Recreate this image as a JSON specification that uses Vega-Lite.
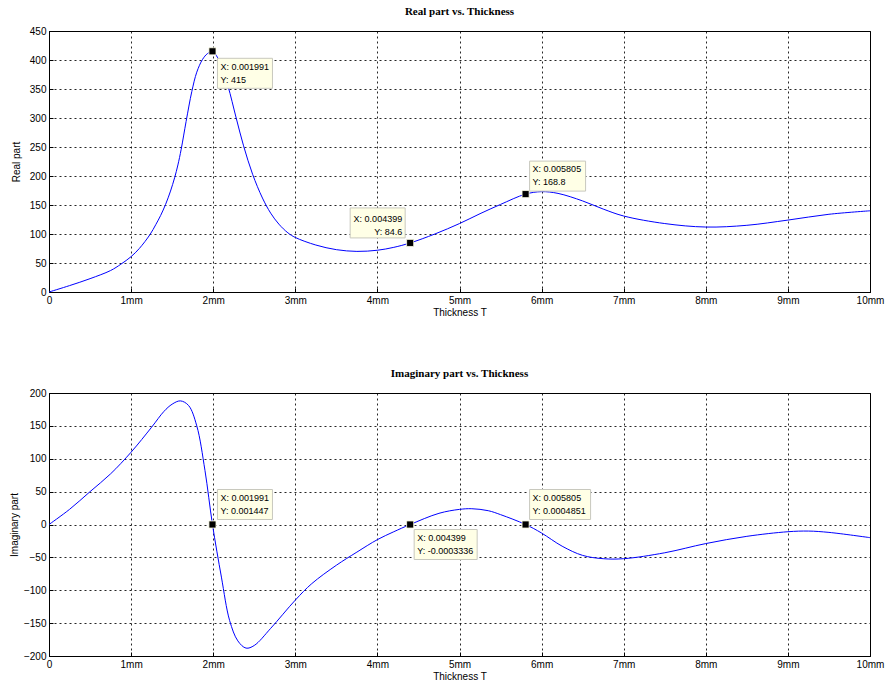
{
  "$schema": "https://vega.github.io/schema/vega-lite/v6.json",
  "background": "white",
  "padding": {"left": 8, "top": 5, "right": 5, "bottom": 5},
  "spacing": 49,
  "config": {
    "view": {"stroke": "#000", "strokeWidth": 1},
    "font": "Liberation Sans",
    "axis": {
      "domainColor": "#000",
      "grid": true,
      "gridColor": "#000",
      "gridDash": [2, 3],
      "gridWidth": 1,
      "gridOpacity": 0.85,
      "tickColor": "#000",
      "tickSize": -4,
      "labelPadding": 7,
      "labelFont": "Liberation Sans",
      "labelFontSize": 10,
      "labelColor": "#000",
      "titleFont": "Liberation Sans",
      "titleFontSize": 10,
      "titleFontWeight": "normal",
      "titleColor": "#000",
      "labelOverlap": false,
      "labelFlush": false,
      "labelBound": false
    },
    "title": {"font": "Liberation Serif", "fontSize": 11, "fontWeight": "bold", "color": "#000", "offset": 9}
  },
  "datasets": {
    "real": [
      {"x": 0.0, "v": 0}, {"x": 0.00025, "v": 11}, {"x": 0.0005, "v": 23}, {"x": 0.00075, "v": 37},
      {"x": 0.000876, "v": 48}, {"x": 0.001, "v": 61}, {"x": 0.0011, "v": 75}, {"x": 0.00123, "v": 99},
      {"x": 0.0013, "v": 116}, {"x": 0.00136, "v": 132}, {"x": 0.00142, "v": 151}, {"x": 0.00148, "v": 174},
      {"x": 0.00153, "v": 197}, {"x": 0.00157, "v": 219}, {"x": 0.00161, "v": 246}, {"x": 0.00167, "v": 294},
      {"x": 0.00174, "v": 346}, {"x": 0.0018, "v": 379}, {"x": 0.00187, "v": 401}, {"x": 0.00193, "v": 411},
      {"x": 0.001991, "v": 415}, {"x": 0.00205, "v": 405}, {"x": 0.0021, "v": 388}, {"x": 0.00218, "v": 355},
      {"x": 0.00228, "v": 300}, {"x": 0.00237, "v": 252}, {"x": 0.00248, "v": 203}, {"x": 0.0026, "v": 162},
      {"x": 0.0027, "v": 136}, {"x": 0.0028, "v": 117}, {"x": 0.00291, "v": 102}, {"x": 0.003, "v": 94},
      {"x": 0.00325, "v": 81}, {"x": 0.0035, "v": 73}, {"x": 0.00375, "v": 70}, {"x": 0.004, "v": 72},
      {"x": 0.0042, "v": 77}, {"x": 0.004399, "v": 84.6}, {"x": 0.0047, "v": 100}, {"x": 0.005, "v": 118},
      {"x": 0.00525, "v": 135}, {"x": 0.0055, "v": 151}, {"x": 0.005805, "v": 168.8}, {"x": 0.006, "v": 173},
      {"x": 0.0062, "v": 170}, {"x": 0.0065, "v": 157}, {"x": 0.00675, "v": 143}, {"x": 0.007, "v": 131},
      {"x": 0.0075, "v": 118}, {"x": 0.008, "v": 112}, {"x": 0.0085, "v": 115}, {"x": 0.009, "v": 124},
      {"x": 0.0095, "v": 134}, {"x": 0.01, "v": 140}
    ],
    "imag": [
      {"x": 0.0, "v": 0}, {"x": 0.00025, "v": 23}, {"x": 0.0005, "v": 50}, {"x": 0.00075, "v": 77},
      {"x": 0.001, "v": 110}, {"x": 0.00125, "v": 148}, {"x": 0.0014, "v": 172}, {"x": 0.0015, "v": 183},
      {"x": 0.0016, "v": 188}, {"x": 0.0017, "v": 181}, {"x": 0.0018, "v": 150}, {"x": 0.0019, "v": 82},
      {"x": 0.001991, "v": 0}, {"x": 0.0021, "v": -80}, {"x": 0.0022, "v": -146}, {"x": 0.0023, "v": -177},
      {"x": 0.0024, "v": -188}, {"x": 0.0025, "v": -184}, {"x": 0.0027, "v": -158}, {"x": 0.003, "v": -115},
      {"x": 0.0032, "v": -90}, {"x": 0.0035, "v": -62}, {"x": 0.00375, "v": -42}, {"x": 0.004, "v": -23},
      {"x": 0.0042, "v": -11}, {"x": 0.004399, "v": 0}, {"x": 0.00475, "v": 17}, {"x": 0.005, "v": 23},
      {"x": 0.00515, "v": 24}, {"x": 0.00535, "v": 21}, {"x": 0.0055, "v": 15}, {"x": 0.005805, "v": 0},
      {"x": 0.006, "v": -13}, {"x": 0.00625, "v": -33}, {"x": 0.0065, "v": -47}, {"x": 0.00675, "v": -52},
      {"x": 0.007, "v": -52}, {"x": 0.0075, "v": -43}, {"x": 0.008, "v": -29}, {"x": 0.0085, "v": -18},
      {"x": 0.009, "v": -11}, {"x": 0.00925, "v": -10}, {"x": 0.0095, "v": -12}, {"x": 0.01, "v": -20}
    ],
    "tipsReal": [
      {"tip": "a", "x": 0.001991, "v": 415, "label": ["X: 0.001991", "Y: 415"]},
      {"tip": "b", "x": 0.004399, "v": 84.6, "label": ["X: 0.004399", "Y: 84.6"]},
      {"tip": "c", "x": 0.005805, "v": 168.8, "label": ["X: 0.005805", "Y: 168.8"]}
    ],
    "tipsImag": [
      {"tip": "d", "x": 0.001991, "v": 0.001447, "label": ["X: 0.001991", "Y: 0.001447"]},
      {"tip": "e", "x": 0.004399, "v": -0.0003336, "label": ["X: 0.004399", "Y: -0.0003336"]},
      {"tip": "f", "x": 0.005805, "v": 0.0004851, "label": ["X: 0.005805", "Y: 0.0004851"]}
    ]
  },
  "vconcat": [
    {
      "title": "Real part vs. Thickness",
      "width": 821,
      "height": 261,
      "encoding": {
        "x": {"field": "x", "type": "quantitative", "scale": {"domain": [0, 0.01], "nice": false, "zero": false},
          "axis": {"title": "Thickness T", "values": [0, 0.001, 0.002, 0.003, 0.004, 0.005, 0.006, 0.007, 0.008, 0.009, 0.01],
            "labelExpr": "datum.value == 0 ? '0' : round(datum.value * 1000) + 'mm'", "titlePadding": 2}},
        "y": {"field": "v", "type": "quantitative", "scale": {"domain": [0, 450], "nice": false},
          "axis": {"title": "Real part", "values": [0, 50, 100, 150, 200, 250, 300, 350, 400, 450], "titlePadding": 8}}
      },
      "layer": [
        {"data": {"name": "real"}, "mark": {"type": "line", "color": "#0000FF", "strokeWidth": 1, "interpolate": "catmull-rom"}},
        {"data": {"name": "tipsReal"}, "transform": [{"filter": "datum.tip == 'a'"}],
          "mark": {"type": "rect", "fill": "#FFFFE6", "stroke": "#C8C8BE", "strokeWidth": 1, "xOffset": 5, "x2Offset": 60, "yOffset": 7, "y2Offset": 37},
          "encoding": {"x2": {"field": "x"}, "y2": {"field": "v"}}},
        {"data": {"name": "tipsReal"}, "transform": [{"filter": "datum.tip == 'b'"}],
          "mark": {"type": "rect", "fill": "#FFFFE6", "stroke": "#C8C8BE", "strokeWidth": 1, "xOffset": -60, "x2Offset": -5, "yOffset": -35, "y2Offset": -5},
          "encoding": {"x2": {"field": "x"}, "y2": {"field": "v"}}},
        {"data": {"name": "tipsReal"}, "transform": [{"filter": "datum.tip == 'c'"}],
          "mark": {"type": "rect", "fill": "#FFFFE6", "stroke": "#C8C8BE", "strokeWidth": 1, "xOffset": 4, "x2Offset": 60, "yOffset": -33, "y2Offset": -3},
          "encoding": {"x2": {"field": "x"}, "y2": {"field": "v"}}},
        {"data": {"name": "tipsReal"}, "transform": [{"filter": "datum.tip == 'a'"}],
          "mark": {"type": "text", "align": "left", "baseline": "middle", "dx": 8, "dy": 16, "fontSize": 9, "lineHeight": 13, "color": "#000"},
          "encoding": {"text": {"field": "label"}}},
        {"data": {"name": "tipsReal"}, "transform": [{"filter": "datum.tip == 'b'"}],
          "mark": {"type": "text", "align": "right", "baseline": "middle", "dx": -8, "dy": -24, "fontSize": 9, "lineHeight": 13, "color": "#000"},
          "encoding": {"text": {"field": "label"}}},
        {"data": {"name": "tipsReal"}, "transform": [{"filter": "datum.tip == 'c'"}],
          "mark": {"type": "text", "align": "left", "baseline": "middle", "dx": 7, "dy": -25, "fontSize": 9, "lineHeight": 13, "color": "#000"},
          "encoding": {"text": {"field": "label"}}},
        {"data": {"name": "tipsReal"},
          "mark": {"type": "point", "shape": "square", "filled": true, "size": 50, "opacity": 1, "fill": "#000", "stroke": "#FFFFE6", "strokeWidth": 0.8}}
      ]
    },
    {
      "title": "Imaginary part vs. Thickness",
      "width": 821,
      "height": 263,
      "encoding": {
        "x": {"field": "x", "type": "quantitative", "scale": {"domain": [0, 0.01], "nice": false, "zero": false},
          "axis": {"title": "Thickness T", "values": [0, 0.001, 0.002, 0.003, 0.004, 0.005, 0.006, 0.007, 0.008, 0.009, 0.01],
            "labelExpr": "datum.value == 0 ? '0' : round(datum.value * 1000) + 'mm'", "titlePadding": 2}},
        "y": {"field": "v", "type": "quantitative", "scale": {"domain": [-200, 200], "nice": false},
          "axis": {"title": "Imaginary part", "values": [-200, -150, -100, -50, 0, 50, 100, 150, 200], "titlePadding": 4}}
      },
      "layer": [
        {"data": {"name": "imag"}, "mark": {"type": "line", "color": "#0000FF", "strokeWidth": 1, "interpolate": "catmull-rom"}},
        {"data": {"name": "tipsImag"}, "transform": [{"filter": "datum.tip == 'd'"}],
          "mark": {"type": "rect", "fill": "#FFFFE6", "stroke": "#C8C8BE", "strokeWidth": 1, "xOffset": 5, "x2Offset": 60, "yOffset": -35, "y2Offset": -5},
          "encoding": {"x2": {"field": "x"}, "y2": {"field": "v"}}},
        {"data": {"name": "tipsImag"}, "transform": [{"filter": "datum.tip == 'e'"}],
          "mark": {"type": "rect", "fill": "#FFFFE6", "stroke": "#C8C8BE", "strokeWidth": 1, "xOffset": 4, "x2Offset": 67, "yOffset": 5, "y2Offset": 35},
          "encoding": {"x2": {"field": "x"}, "y2": {"field": "v"}}},
        {"data": {"name": "tipsImag"}, "transform": [{"filter": "datum.tip == 'f'"}],
          "mark": {"type": "rect", "fill": "#FFFFE6", "stroke": "#C8C8BE", "strokeWidth": 1, "xOffset": 4, "x2Offset": 65, "yOffset": -35, "y2Offset": -5},
          "encoding": {"x2": {"field": "x"}, "y2": {"field": "v"}}},
        {"data": {"name": "tipsImag"}, "transform": [{"filter": "datum.tip == 'd'"}],
          "mark": {"type": "text", "align": "left", "baseline": "middle", "dx": 8, "dy": -26, "fontSize": 9, "lineHeight": 13, "color": "#000"},
          "encoding": {"text": {"field": "label"}}},
        {"data": {"name": "tipsImag"}, "transform": [{"filter": "datum.tip == 'e'"}],
          "mark": {"type": "text", "align": "left", "baseline": "middle", "dx": 7, "dy": 13, "fontSize": 9, "lineHeight": 13, "color": "#000"},
          "encoding": {"text": {"field": "label"}}},
        {"data": {"name": "tipsImag"}, "transform": [{"filter": "datum.tip == 'f'"}],
          "mark": {"type": "text", "align": "left", "baseline": "middle", "dx": 7, "dy": -26, "fontSize": 9, "lineHeight": 13, "color": "#000"},
          "encoding": {"text": {"field": "label"}}},
        {"data": {"name": "tipsImag"},
          "mark": {"type": "point", "shape": "square", "filled": true, "size": 50, "opacity": 1, "fill": "#000", "stroke": "#FFFFE6", "strokeWidth": 0.8}}
      ]
    }
  ]
}
